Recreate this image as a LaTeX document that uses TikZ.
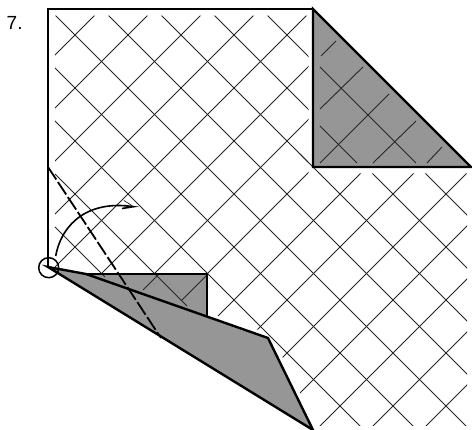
\documentclass[tikz,border=0pt]{standalone}
\usepackage{fontspec}
\setmainfont{Liberation Sans}
\definecolor{foldgray}{HTML}{969696}
\tikzset{
  gridline/.style={line width=0.9pt,black!85},
  edgeline/.style={line width=1.9pt,black,line join=miter},
  foldline/.style={line width=1.8pt,dash pattern=on 15pt off 3pt},
}
\begin{document}
\begin{tikzpicture}[x=1pt,y=-1pt]
\useasboundingbox (0,0) rectangle (472,430);
\fill[white] (0,0) rectangle (472,430);
\def\gridregion{(55,15.7) -- (308.5,15.7) -- (308.5,173.5) -- (467,173.5) -- (467,426) -- (55,426) -- cycle}
% rising lines
\begin{scope}
\clip \gridregion;
\foreach \k in {0,...,14}{
  \pgfmathsetmacro{\s}{110+53*\k}
  \draw[gridline] (\s-500,500) -- (\s,0);
}
\end{scope}
% white gap beside the flap
\fill[white] (40,274) -- (207,274) -- (207,317) -- (268,338) -- (313,430) -- (40,430) -- cycle;
\draw[white,line width=9pt] (207,317) -- (268,338) -- (313,430);
% falling lines
\begin{scope}
\clip \gridregion;
\foreach \k in {-2,...,4}{
  \pgfmathsetmacro{\c}{40+53*\k}
  \draw[gridline] (\c,0) -- (\c+500,500);
}
\end{scope}
\draw[gridline] (300,154) -- (320,174);
% back-side triangle
\fill[foldgray] (313,9) -- (471,167) -- (313,167) -- cycle;
\draw[gridline] (321,56) -- (336,41);
\draw[gridline] (320,109) -- (363,67);
\draw[gridline] (320,163) -- (389,94);
\draw[gridline] (373,163) -- (416,121);
\draw[gridline] (427,163) -- (442,147);
\draw[gridline] (320,67) -- (416,163);
\draw[gridline] (320,126) -- (357,163);
% lower back-side square and flap
\fill[foldgray] (86,274) -- (207,274) -- (207,320) -- cycle;
\fill[foldgray] (48,267) -- (86,274) -- (268,338) -- (313,430) -- cycle;
\draw[gridline] (143,290) -- (159,274);
\draw[gridline] (181,301) -- (208,274);
\draw[gridline] (55,174) -- (187,306);
\draw[gridline] (55,227) -- (105,277);
% edges
\coordinate (tl) at (48,9);
\coordinate (tr) at (313,9);
\coordinate (rr) at (471,167);
\coordinate (cr) at (313,167);
\coordinate (bl) at (48,267);
\coordinate (sqa) at (86,274);
\coordinate (sqb) at (207,274);
\coordinate (sqc) at (207,317);
\coordinate (fa) at (268,338);
\coordinate (fb) at (313,430);
\coordinate (fs) at (48,167);
\coordinate (fe) at (161,338);
\draw[edgeline] (bl) -- (tl) -- (tr);
\draw[edgeline,line width=2.3pt] (tr) -- (rr) -- (cr) -- cycle;
\draw[line width=1.6pt] (sqa) -- (sqb) -- (sqc);
\draw[edgeline,line width=2.4pt] (bl) -- (sqa) -- (fa) -- (fb) -- cycle;
\draw[foldline] (fs) -- (fe);
\draw[line width=1.5pt] (48.7,267.7) circle (10);
\coordinate (as) at (55.7,256);
\coordinate (ae) at (133.5,206.7);
\coordinate (ab) at (122,208.5);
\coordinate (ac) at (124,200.5);
\draw[line width=1.6pt] (as) .. controls (62,222) and (90,200) .. (ae) -- (ab);
\draw[line width=0.6pt] (ac) -- (ae);
\node[anchor=base west,inner sep=0pt,font=\fontsize{19}{19}\selectfont] (num) at (6.5,29.5) {7.};
\end{tikzpicture}
\end{document}
